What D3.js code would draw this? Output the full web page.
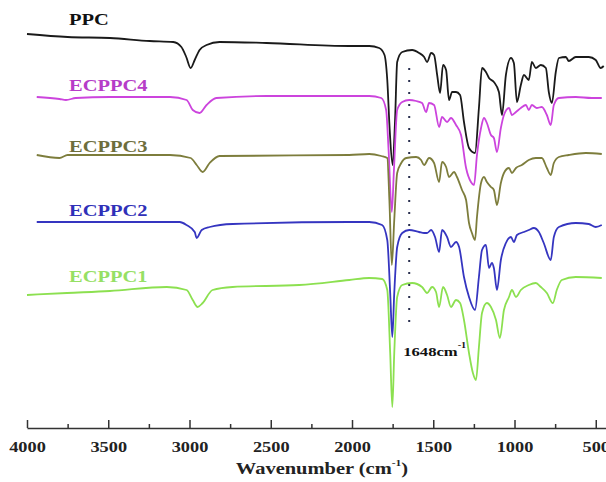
<!DOCTYPE html>
<html>
<head>
<meta charset="utf-8">
<script src="https://d3js.org/d3.v7.min.js"></script>
<style>
  html, body { margin: 0; padding: 0; background: #fff; }
  svg { display: block; }
  text { font-family: "Liberation Serif", "Times New Roman", "DejaVu Serif", serif; font-weight: bold; }
</style>
</head>
<body>
<svg id="chart" width="606" height="482"></svg>
<script>
// Series names and colors
const seriesNames = ["PPC", "ECPPC4", "ECPPC3", "ECPPC2", "ECPPC1"];
const lineColors  = ["#1a1a1a", "#cc44dd", "#7d7d3c", "#3535c0", "#8ce050"];
const labelColors = ["#111111", "#b63cc8", "#6e6e3c", "#3030b8", "#96e064"];

// Spectra: [wavenumber (cm-1), transmittance (a.u., stacked)]
const ppc = [[4000,406],[3750,403],[3490,402],[3245,399],[3100,398],[3050,393],[3020,383],[2993,372],[2968,380],[2938,390],[2895,395],[2815,398],[2526,397],[2017,394],[1894,394],[1833,392],[1800,385],[1783,360],[1768,310],[1750,275],[1735,320],[1722,378],[1691,388],[1630,390],[1587,387],[1556,383],[1538,378],[1513,387],[1495,385],[1476,365],[1458,347],[1440,375],[1421,370],[1403,340],[1384,348],[1360,348],[1335,345],[1311,318],[1280,292],[1243,287],[1219,332],[1200,372],[1176,368],[1157,362],[1127,358],[1096,348],[1077,325],[1053,365],[1022,382],[1004,377],[985,338],[961,355],[942,365],[912,360],[893,378],[869,372],[838,375],[807,372],[789,348],[770,337],[746,368],[727,382],[684,383],[666,379],[623,383],[543,383],[500,380],[470,372],[451,374]];
const ecppc4 = [[3940,343],[3800,341],[3760,340],[3700,342],[3490,343],[3120,343],[3018,340],[2980,330],[2938,327],[2895,335],[2835,342],[2526,344],[2017,344],[1894,344],[1820,342],[1790,330],[1775,290],[1755,228],[1742,270],[1722,330],[1691,338],[1648,340],[1605,339],[1569,337],[1544,328],[1526,337],[1495,335],[1464,313],[1446,323],[1415,318],[1391,322],[1360,315],[1329,305],[1298,272],[1268,258],[1249,255],[1231,285],[1206,312],[1188,322],[1170,317],[1145,305],[1127,302],[1108,288],[1084,312],[1065,325],[1034,332],[1016,325],[991,328],[961,332],[930,335],[912,330],[893,335],[863,332],[832,333],[801,325],[777,315],[758,335],[727,342],[623,343],[525,342],[463,342]];
const ecppc3 = [[3940,285],[3800,282],[3750,285],[3490,285],[3120,285],[2993,282],[2956,275],[2919,268],[2876,277],[2815,284],[2017,285],[1894,286],[1820,284],[1783,282],[1770,240],[1755,175],[1740,220],[1722,267],[1697,277],[1666,282],[1605,283],[1575,280],[1556,275],[1526,282],[1495,277],[1464,258],[1446,278],[1421,273],[1403,263],[1372,268],[1354,263],[1323,250],[1298,240],[1280,217],[1262,207],[1243,200],[1231,223],[1206,257],[1188,263],[1170,258],[1145,253],[1127,250],[1108,235],[1084,257],[1065,267],[1034,272],[1016,267],[991,272],[955,275],[912,280],[869,282],[832,282],[801,272],[777,265],[758,277],[727,283],[666,285],[561,287],[463,286]];
const ecppc2 = [[3940,218],[3490,218],[3060,218],[3018,215],[2968,208],[2956,202],[2925,210],[2876,213],[2735,216],[2017,218],[1894,218],[1815,215],[1783,200],[1765,147],[1752,103],[1740,147],[1722,193],[1691,207],[1648,210],[1587,208],[1556,207],[1538,207],[1513,210],[1489,203],[1464,188],[1446,210],[1415,203],[1391,193],[1360,198],[1341,193],[1311,163],[1280,143],[1243,130],[1219,163],[1200,190],[1176,195],[1157,172],[1139,177],[1127,172],[1108,150],[1084,180],[1053,197],[1022,203],[1004,198],[985,205],[942,208],[912,210],[881,212],[850,208],[820,197],[777,180],[758,203],[727,213],[623,217],[543,216],[500,213],[463,215]];
const ecppc1 = [[4000,145],[3754,147],[3490,149],[3140,153],[3018,150],[2980,140],[2950,133],[2919,137],[2858,150],[2735,153],[2324,155],[2017,160],[1894,162],[1814,161],[1783,150],[1765,87],[1752,33],[1740,87],[1722,143],[1691,155],[1630,157],[1569,153],[1538,147],[1507,153],[1483,148],[1464,133],[1440,153],[1415,145],[1391,133],[1360,140],[1335,137],[1311,120],[1280,87],[1256,67],[1237,60],[1219,93],[1200,127],[1170,137],[1145,133],[1114,120],[1090,102],[1065,130],[1034,143],[1016,150],[991,143],[961,150],[912,155],[869,157],[838,153],[801,147],[764,137],[740,150],[709,160],[623,163],[463,162]];
const spectra = [ppc, ecppc4, ecppc3, ecppc2, ecppc1];

// Axis ticks
const majorTicks = [4000, 3500, 3000, 2500, 2000, 1500, 1000, 500];
const minorTicks = [3750, 3250, 2750, 2250, 1750, 1250, 750];
const markerWavenumber = 1648;
const markerLabel = "1648cm";
const xTitle = "Wavenumber (cm";

const FONT = "'Liberation Serif', 'Times New Roman', 'DejaVu Serif', serif";

const svg = d3.select("#chart");
const x = d3.scaleLinear().domain([4000, 437]).range([27, 606]);
const y = d3.scaleLinear().domain([0, 440]).range([440, 0]);

// Lines
const line = d3.line().x(d => x(d[0])).y(d => y(d[1])).curve(d3.curveMonotoneX);
svg.append("g").selectAll("path").data(spectra).join("path")
  .attr("d", line)
  .attr("fill", "none")
  .attr("stroke", (d, i) => lineColors[i])
  .attr("stroke-width", 1.8)
  .attr("stroke-linejoin", "round");

// Dotted marker line
svg.append("line")
  .attr("x1", x(markerWavenumber)).attr("x2", x(markerWavenumber))
  .attr("y1", 68).attr("y2", 328)
  .attr("stroke", "#2a3050").attr("stroke-width", 2)
  .attr("stroke-dasharray", "2,10");

// Marker label
const ml = svg.append("text")
  .attr("transform", `translate(${x(markerWavenumber) - 6},356) scale(1.28,1)`)
  .attr("font-family", FONT).attr("font-weight", "bold")
  .attr("font-size", 13).attr("fill", "#111");
ml.append("tspan").text(markerLabel);
ml.append("tspan").attr("font-size", 8).attr("dy", -8).text("-1");

// Series labels
const labelY = [25, 91, 152, 216, 282];
svg.append("g").selectAll("text").data(seriesNames).join("text")
  .attr("transform", (d, i) => `translate(69,${labelY[i]}) scale(1.28,1)`)
  .attr("font-family", FONT).attr("font-weight", "bold")
  .attr("font-size", 16)
  .attr("fill", (d, i) => labelColors[i])
  .text(d => d);

// X axis
const axisY = 428;
const gx = svg.append("g").attr("transform", `translate(0,${axisY})`)
  .call(d3.axisBottom(x).tickValues(majorTicks).tickSizeInner(-8).tickSizeOuter(0).tickPadding(13).tickFormat(d3.format("d")));
gx.attr("font-family", FONT);
gx.select(".domain").attr("stroke", "#333").attr("stroke-width", 1.5);
gx.selectAll(".tick line").attr("stroke", "#333").attr("stroke-width", 1.5);
gx.selectAll(".tick text")
  .attr("font-size", 15).attr("fill", "#222")
  .attr("font-family", FONT).attr("font-weight", "bold")
  .attr("transform", "scale(1.22,1)");

const gm = svg.append("g").attr("transform", `translate(0,${axisY})`)
  .call(d3.axisBottom(x).tickValues(minorTicks).tickSizeInner(-4).tickSizeOuter(0).tickFormat(""));
gm.select(".domain").remove();
gm.selectAll(".tick line").attr("stroke", "#333").attr("stroke-width", 1.5);

// X title
const t = svg.append("text")
  .attr("transform", "translate(322,474) scale(1.28,1)")
  .attr("text-anchor", "middle")
  .attr("font-family", FONT).attr("font-weight", "bold")
  .attr("font-size", 16).attr("fill", "#222");
t.append("tspan").text(xTitle);
t.append("tspan").attr("font-size", 9).attr("dy", -8).text("-1");
t.append("tspan").attr("dy", 8).text(")");
</script>
</body>
</html>
